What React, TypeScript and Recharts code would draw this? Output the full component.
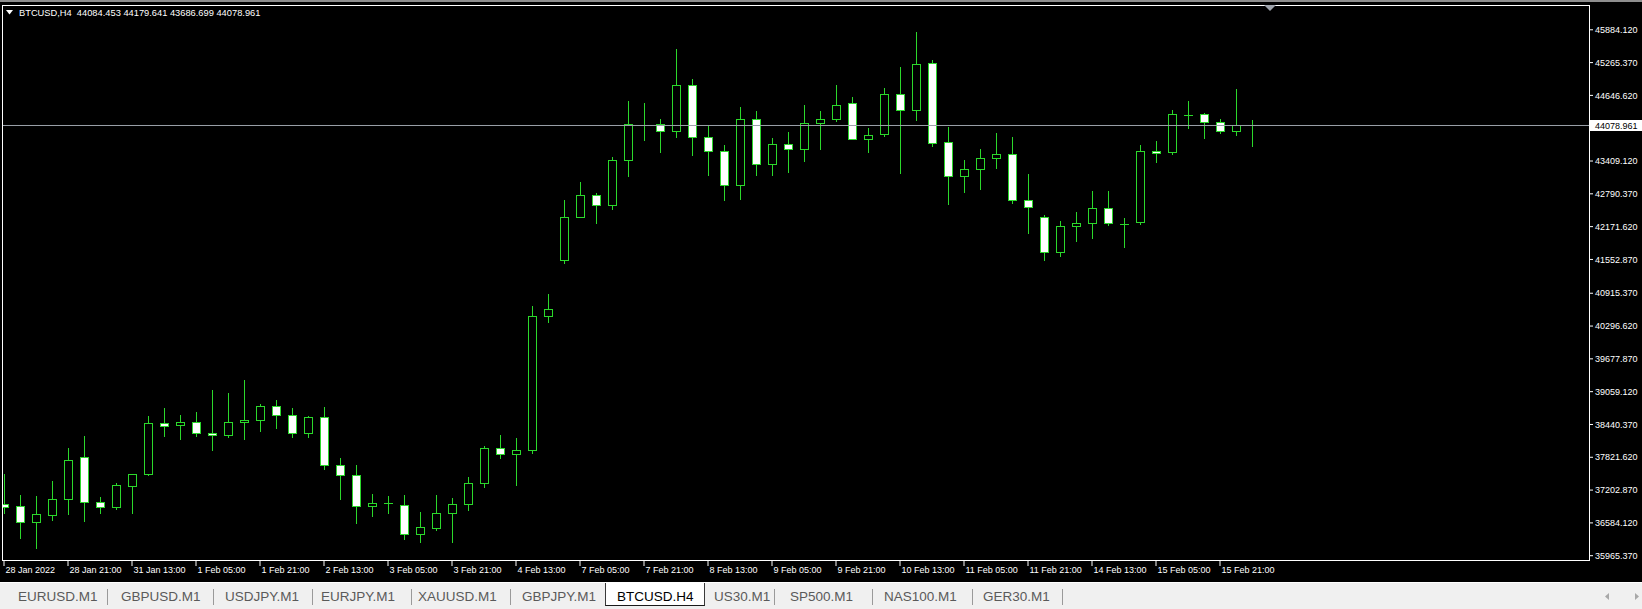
import { ComposedChart, Bar, XAxis, YAxis, ReferenceLine } from 'recharts';

// BTCUSD H4 bars (28 Jan 05:00 .. 16 Feb 05:00)
const opens = [
  36944, 36894, 36599, 36724, 37033, 37825, 36977, 36882, 37278, 37497,
  38466, 38421, 38485, 38278, 38233, 38485, 38523, 38787, 38617, 38278,
  38580, 37674, 37486, 36901, 36950, 36931, 36366, 36479, 36769, 36939,
  37335, 37995, 37882, 37950, 40477, 41533, 42352, 42767, 42578, 43427,
  44087, 44106, 43974, 44841, 43860, 43596, 42966, 44200, 43351, 43728,
  43634, 44124, 44200, 44502, 43823, 43917, 44671, 44370, 45256, 43766,
  43125, 43257, 43464, 43540, 42672, 42352, 41692, 42182, 42238, 42521,
  42220, 42257, 43596, 43578, 44281, 44294, 44143, 43974, 44084.453,
];
const highs = [
  37510, 37109, 37090, 37378, 37995, 38227, 37077, 37341, 37510, 38604,
  38755, 38623, 38680, 39095, 39038, 39283, 38831, 38906, 38755, 38604,
  38768, 37806, 37674, 37127, 37090, 37109, 36788, 37109, 37052, 37448,
  38033, 38240, 38184, 40679, 40905, 42672, 43012, 42804, 43483, 44539,
  44502, 44200, 45520, 44954, 44079, 43710, 44426, 44351, 43842, 43955,
  44464, 44351, 44841, 44615, 44030, 44785, 45181, 45841, 45313, 44049,
  43427, 43634, 43936, 43860, 43163, 42389, 42276, 42446, 42842, 42842,
  42333, 43710, 43785, 44370, 44539, 44313, 44200, 44766, 44179.641,
];
const lows = [
  36775, 36290, 36120, 36648, 36743, 36611, 36780, 36837, 36780, 37490,
  38214, 38157, 38214, 37950, 38195, 38157, 38308, 38365, 38202, 38202,
  37599, 37033, 36573, 36705, 36762, 36271, 36233, 36441, 36233, 36826,
  37259, 37799, 37290, 37901, 40364, 41495, 42345, 42238, 42495, 43125,
  43804, 43570, 43853, 43532, 43136, 42665, 42702, 43144, 43144, 43200,
  43404, 43645, 44162, 43815, 43578, 43879, 43182, 44181, 43691, 42597,
  42823, 42880, 43276, 42616, 42050, 41541, 41616, 41899, 41956, 42201,
  41786, 42220, 43389, 43540, 44030, 43842, 43936, 43898, 43686.699,
];
const closes = [
  36888, 36599, 36743, 37033, 37769, 36977, 36882, 37297, 37505, 38466,
  38410, 38485, 38278, 38240, 38485, 38523, 38787, 38617, 38278, 38580,
  37674, 37486, 36901, 36958, 36950, 36366, 36505, 36769, 36939, 37335,
  37995, 37882, 37957, 40490, 40617, 42352, 42767, 42578, 43427, 44106,
  44087, 43974, 44841, 43860, 43596, 42966, 44200, 43351, 43728, 43634,
  44124, 44200, 44464, 43823, 43898, 44671, 44370, 45237, 43747, 43125,
  43257, 43464, 43540, 42672, 42540, 41692, 42182, 42238, 42521, 42238,
  42220, 43596, 43559, 44294, 44281, 44143, 43974, 44087, 44078.961,
];

const timeLabels = [
  '28 Jan 2022', '28 Jan 21:00', '31 Jan 13:00', '1 Feb 05:00', '1 Feb 21:00',
  '2 Feb 13:00', '3 Feb 05:00', '3 Feb 21:00', '4 Feb 13:00', '7 Feb 05:00',
  '7 Feb 21:00', '8 Feb 13:00', '9 Feb 05:00', '9 Feb 21:00', '10 Feb 13:00',
  '11 Feb 05:00', '11 Feb 21:00', '14 Feb 13:00', '15 Feb 05:00', '15 Feb 21:00',
];
const timeTickIdx = timeLabels.map((_, k) => k * 4);

const priceTicks = [
  45884.12, 45265.37, 44646.62, 43409.12, 42790.37, 42171.62, 41552.87, 40915.37,
  40296.62, 39677.87, 39059.12, 38440.37, 37821.62, 37202.87, 36584.12, 35965.37,
];

const lastPrice = 44078.961;
const headerText = 'BTCUSD,H4  44084.453 44179.641 43686.699 44078.961';

const tabs = ['EURUSD.M1', 'GBPUSD.M1', 'USDJPY.M1', 'EURJPY.M1', 'XAUUSD.M1', 'GBPJPY.M1', 'BTCUSD.H4', 'US30.M1', 'SP500.M1', 'NAS100.M1', 'GER30.M1'];
const activeTab = 'BTCUSD.H4';
const tabTextLeft = [18, 121, 225, 321, 418, 522, 617, 714, 790, 884, 983];
const tabSeparators = [107, 213, 312, 411, 510, 774, 872, 972, 1062];

// 79 bars plus the empty "chart shift" space on the right
const SLOTS = 99;
const data = Array.from({ length: SLOTS }, (_, i) =>
  i < opens.length
    ? { i, o: opens[i], h: highs[i], l: lows[i], c: closes[i] }
    : { i, o: null, h: null, l: null, c: null }
);

const GREEN = '#2bd82b';
const FONT = '"Liberation Sans", Arial, sans-serif';

function Candle(props: any) {
  const { x, y, width, height, payload } = props;
  if (!payload || payload.o == null || !isFinite(y) || !isFinite(height)) return <g />;
  const { o, h, l, c } = payload;
  const top = Math.min(y, y + height);
  const span = Math.abs(height);
  const k = h === l ? 0 : span / (h - l);
  const py = (v: number) => top + (h - v) * k;
  const snap = (v: number) => Math.round(v) + 0.5;
  const cx = Math.floor(x + width / 2) + 0.5;
  const yH = snap(py(h));
  const yL = snap(py(l));
  const yT = snap(py(Math.max(o, c)));
  const yB = snap(py(Math.min(o, c)));
  return (
    <g>
      <line x1={cx} x2={cx} y1={yH - 0.5} y2={yL + 0.5} stroke={GREEN} strokeWidth={1} />
      {yB - yT < 1 ? (
        <line x1={cx - 4.5} x2={cx + 4.5} y1={yT} y2={yT} stroke={GREEN} strokeWidth={1} />
      ) : (
        <rect x={cx - 4} y={yT} width={8} height={yB - yT} fill={c > o ? '#000000' : '#ffffff'} stroke={GREEN} strokeWidth={1} />
      )}
    </g>
  );
}

function TimeTick(props: any) {
  const { x, y, payload } = props;
  const k = timeTickIdx.indexOf(payload.value);
  if (k < 0) return <g />;
  return (
    <text x={x + 1.5} y={y} dy="0.71em" fill="#ffffff" fontSize={9} fontFamily={FONT} textAnchor="start">
      {timeLabels[k]}
    </text>
  );
}

function PriceTag(props: any) {
  const { viewBox } = props;
  if (!viewBox) return null;
  const right = viewBox.x + viewBox.width;
  const yy = viewBox.y;
  return (
    <g>
      <rect x={right + 1} y={Math.round(yy) - 5} width={60} height={11} fill="#ffffff" />
      <text x={right + 6} y={yy} dy="0.36em" fill="#000000" fontSize={9} fontFamily={FONT}>
        {lastPrice.toFixed(3)}
      </text>
    </g>
  );
}

export default function App() {
  return (
    <div
      style={{
        position: 'fixed', left: 0, top: 0, width: 1642, height: 609,
        background: '#000000', overflow: 'hidden', fontFamily: FONT,
      }}
    >
      <div style={{ position: 'absolute', left: -4, top: 0 }}>
        <ComposedChart
          width={1653}
          height={609}
          data={data}
          margin={{ top: 6, right: 0, bottom: 0, left: 0 }}
          barCategoryGap={0}
          style={{ fontFamily: FONT }}
        >
          <XAxis
            dataKey="i"
            type="category"
            ticks={timeTickIdx}
            interval={0}
            padding={{ left: 0, right: 9 }}
            height={48}
            tickSize={5}
            tickMargin={1}
            axisLine={false}
            tickLine={{ stroke: '#ffffff' }}
            tick={<TimeTick />}
          />
          <YAxis
            orientation="right"
            type="number"
            domain={[35865.43, 46332.73]}
            allowDataOverflow
            ticks={priceTicks}
            interval={0}
            width={60}
            tickSize={4}
            tickMargin={2}
            axisLine={false}
            tickLine={{ stroke: '#ffffff' }}
            tick={{ fill: '#ffffff', fontSize: 9, fontFamily: FONT }}
            tickFormatter={(v: number) => v.toFixed(3)}
          />
          <ReferenceLine y={lastPrice} stroke="#9aa0a8" strokeWidth={1} label={<PriceTag />} />
          <Bar
            dataKey={(d: any) => (d.o == null ? null : [d.l, d.h])}
            barSize={10}
            shape={<Candle />}
            isAnimationActive={false}
          />
        </ComposedChart>
      </div>

      {/* window edge and chart frame */}
      <div style={{ position: 'absolute', left: 0, top: 0, width: 1642, height: 2, background: '#8e8e8e' }} />
      <div style={{ position: 'absolute', left: 0, top: 5, width: 2, height: 556, background: '#000000' }} />
      <div
        style={{
          position: 'absolute', left: 2, top: 5, width: 1588, height: 556,
          border: '1px solid #ffffff', boxSizing: 'border-box', pointerEvents: 'none',
        }}
      />
      <svg style={{ position: 'absolute', left: 1263, top: 5 }} width={14} height={7}>
        <polygon points="1,0 13,0 7,6" fill="#9ea3ab" />
      </svg>

      {/* header */}
      <svg style={{ position: 'absolute', left: 6, top: 10 }} width={7} height={5}>
        <polygon points="0,0 7,0 3.5,4.5" fill="#ffffff" />
      </svg>
      <div
        style={{
          position: 'absolute', left: 19, top: 7, fontSize: 9.3, lineHeight: '12px',
          color: '#ffffff', whiteSpace: 'pre',
        }}
      >
        {headerText}
      </div>

      {/* symbol tabs */}
      <div
        style={{
          position: 'absolute', left: 0, top: 582, width: 1642, height: 27,
          background: '#f0f0f0', borderTop: '1px solid #ffffff', boxSizing: 'border-box',
        }}
      >
        <div
          style={{
            position: 'absolute', left: 605, top: 0, width: 100, height: 23,
            background: '#ffffff', borderLeft: '1px solid #3a3a3a', borderRight: '1px solid #3a3a3a',
            borderBottom: '1px solid #1a1a1a', boxSizing: 'border-box',
          }}
        />
        {tabSeparators.map((x) => (
          <div key={x} style={{ position: 'absolute', left: x, top: 6, width: 1, height: 16, background: '#9a9a9a' }} />
        ))}
        {tabs.map((t, k) => (
          <div
            key={t}
            style={{
              position: 'absolute', left: tabTextLeft[k], top: 5, fontSize: 13.5, lineHeight: '18px',
              color: t === activeTab ? '#000000' : '#5a5a5a', whiteSpace: 'pre',
            }}
          >
            {t}
          </div>
        ))}
        <svg style={{ position: 'absolute', left: 1605, top: 10 }} width={34} height={8}>
          <polygon points="4,0 4,7 0,3.5" fill="#a8a8a8" />
          <polygon points="30,0 30,7 34,3.5" fill="#a8a8a8" />
        </svg>
      </div>
    </div>
  );
}
